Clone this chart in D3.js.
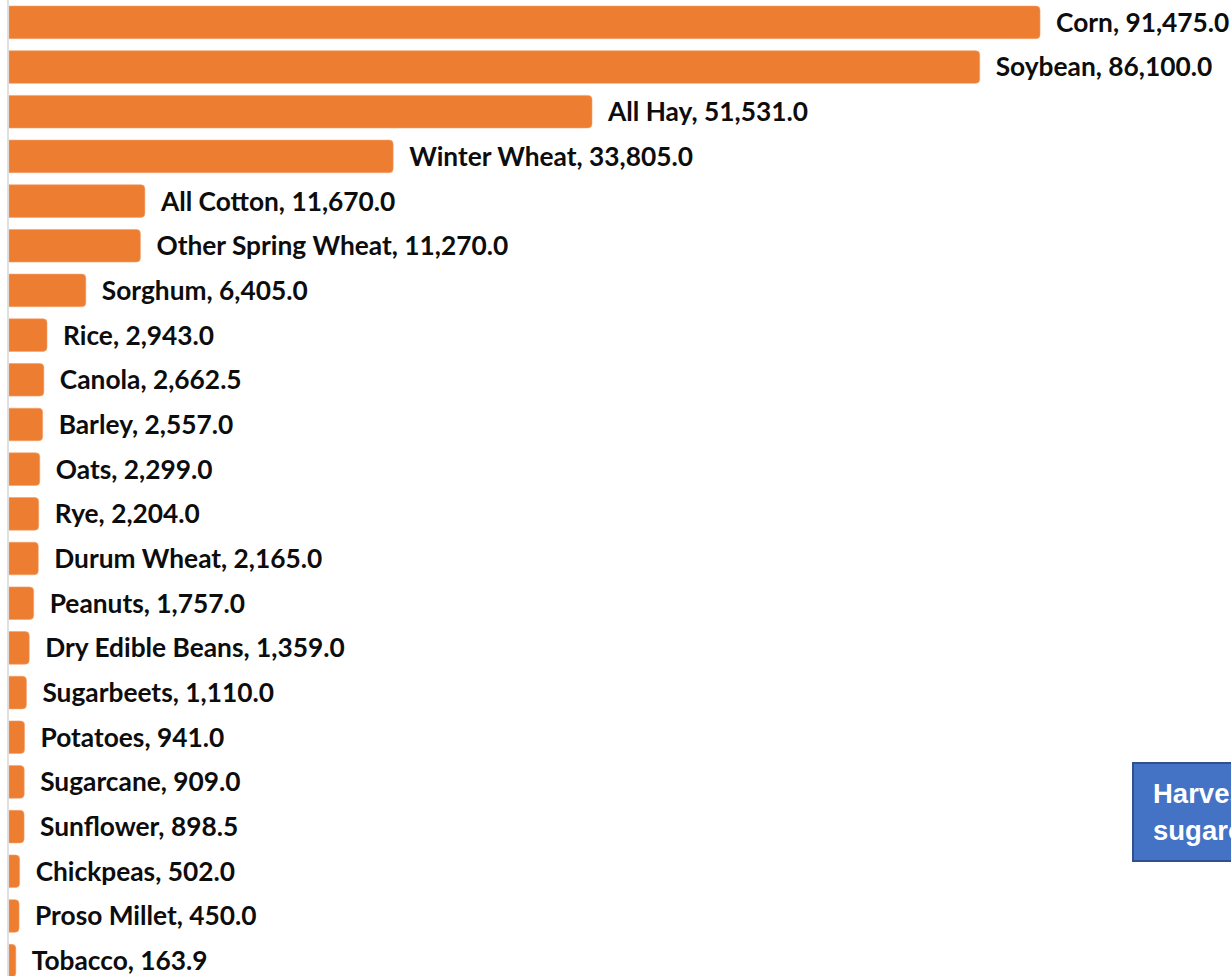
<!DOCTYPE html>
<html>
<head>
<meta charset="utf-8">
<script src="https://cdn.jsdelivr.net/npm/d3@7/dist/d3.min.js"></script>
<style>
  html, body { margin: 0; padding: 0; background: #ffffff; overflow: hidden; }
  svg { display: block; }
</style>
</head>
<body>
<svg id="chart" width="1231" height="976"></svg>
<script>
// ---- data ----
const categories = ["Corn", "Soybean", "All Hay", "Winter Wheat", "All Cotton", "Other Spring Wheat",
  "Sorghum", "Rice", "Canola", "Barley", "Oats", "Rye", "Durum Wheat", "Peanuts",
  "Dry Edible Beans", "Sugarbeets", "Potatoes", "Sugarcane", "Sunflower", "Chickpeas",
  "Proso Millet", "Tobacco"];
const values = [91475.0, 86100.0, 51531.0, 33805.0, 11670.0, 11270.0,
  6405.0, 2943.0, 2662.5, 2557.0, 2299.0, 2204.0, 2165.0, 1757.0,
  1359.0, 1110.0, 941.0, 909.0, 898.5, 502.0,
  450.0, 163.9];
const axisDomain = [-535, 108500];
const noteLines = ["Harvested acres,", "sugarcane acres"];

// ---- layout ----
const W = 1231, H = 976;
const svg = d3.select("#chart");
const x = d3.scaleLinear().domain(axisDomain).range([8, W]);
const y = d3.scaleBand().domain(categories).range([0, 983]).paddingInner(0.27).paddingOuter(0.135);
const fmt = d3.format(",.1f");
const data = categories.map((c, i) => ({ c, v: values[i] }));

// bars with rounded right corners
const r = 4;
function barPath(d) {
  const x0 = x(axisDomain[0]) + 1;
  const x1 = Math.max(x(d.v), x0 + r + 1);
  const y0 = y(d.c), h = y.bandwidth(), y1 = y0 + h;
  return `M${x0},${y0}H${x1 - r}Q${x1},${y0} ${x1},${y0 + r}V${y1 - r}Q${x1},${y1} ${x1 - r},${y1}H${x0}Z`;
}
svg.append("g").selectAll("path").data(data).join("path")
  .attr("d", barPath)
  .attr("fill", "#ED7D31")
  .attr("stroke", "#F4A36E")
  .attr("stroke-width", 0.6);

// vertical axis line
svg.append("line")
  .attr("x1", x(axisDomain[0])).attr("x2", x(axisDomain[0]))
  .attr("y1", 0).attr("y2", H)
  .attr("stroke", "#D9D9D9").attr("stroke-width", 1.6);

// labels
svg.append("g").selectAll("text").data(data).join("text")
  .attr("x", d => x(d.v) + 16)
  .attr("y", d => y(d.c) + y.bandwidth() / 2)
  .attr("dy", "0.36em")
  .attr("font-family", "Lato, 'Open Sans', sans-serif")
  .attr("font-weight", 700)
  .attr("font-size", 26.3)
  .attr("fill", "#0d0d0d")
  .text(d => `${d.c}, ${fmt(d.v)}`);

// annotation box (clipped at the right edge, as in the original)
const note = svg.append("g");
note.append("rect")
  .attr("x", 1133).attr("y", 763).attr("width", 200).attr("height", 98)
  .attr("fill", "#4472C4").attr("stroke", "#2F528F").attr("stroke-width", 2);
note.selectAll("text").data(noteLines).join("text")
  .attr("x", 1153)
  .attr("y", (d, i) => 803 + i * 37)
  .attr("font-family", "'Liberation Sans', Arial, sans-serif")
  .attr("font-weight", 700)
  .attr("font-size", 27.5)
  .attr("fill", "#ffffff")
  .text(d => d);
</script>
</body>
</html>
